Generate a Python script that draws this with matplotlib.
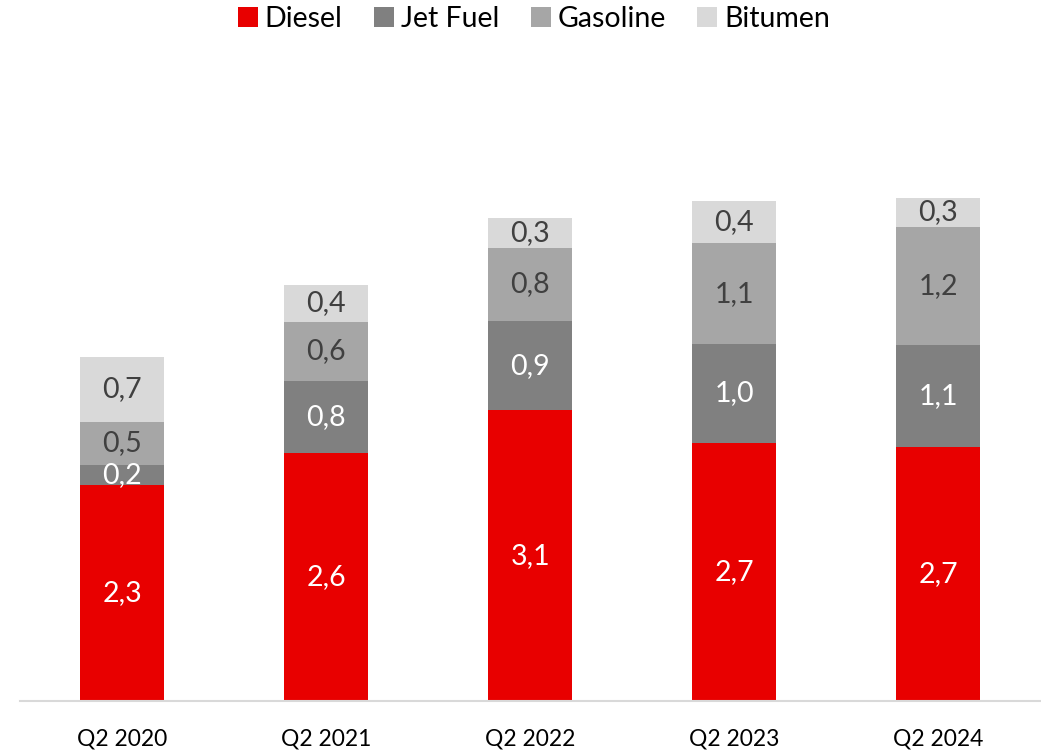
import matplotlib.pyplot as plt
import numpy as np

plt.rcParams['font.family'] = ['Lato', 'DejaVu Sans']

quarters = ['Q2 2020', 'Q2 2021', 'Q2 2022', 'Q2 2023', 'Q2 2024']
diesel = [2.27, 2.61, 3.06, 2.72, 2.67]
jet_fuel = [0.22, 0.76, 0.94, 1.04, 1.08]
gasoline = [0.45, 0.62, 0.77, 1.06, 1.24]
bitumen = [0.68, 0.39, 0.32, 0.44, 0.31]

series = [
    ('Diesel', diesel, '#E80000', 'white'),
    ('Jet Fuel', jet_fuel, '#808080', 'white'),
    ('Gasoline', gasoline, '#A6A6A6', '#404040'),
    ('Bitumen', bitumen, '#D9D9D9', '#404040'),
]

fig = plt.figure(figsize=(10.41, 7.51), dpi=100)
ax = fig.add_axes([0.0192, 0.0666, 0.98, 0.822])

x = np.arange(len(quarters))
bottom = np.zeros(len(quarters))
for name, vals, color, tcolor in series:
    vals = np.array(vals)
    ax.bar(x, vals, 0.41, bottom=bottom, color=color, label=name)
    for xi, b, v in zip(x, bottom, vals):
        ax.text(xi, b + v / 2, f'{v:.1f}'.replace('.', ','), ha='center', va='center',
                fontsize=20.5, color=tcolor)
    bottom += vals

ax.set_xlim(-0.5, 4.5)
ax.set_ylim(0, 6.5)
ax.set_xticks(x)
ax.set_xticklabels(quarters, fontsize=16.5)
ax.tick_params(axis='x', length=0, pad=20)
ax.set_yticks([])
for s in ['top', 'right', 'left']:
    ax.spines[s].set_visible(False)
ax.spines['bottom'].set_color('#D9D9D9')
ax.spines['bottom'].set_linewidth(1.5)

fig.legend(loc='center', bbox_to_anchor=(0.513, 0.975), ncol=4, frameon=False,
           fontsize=20.5, handlelength=0.7, handleheight=0.7, handletextpad=0.25,
           columnspacing=1.1)

plt.savefig('out.png')
